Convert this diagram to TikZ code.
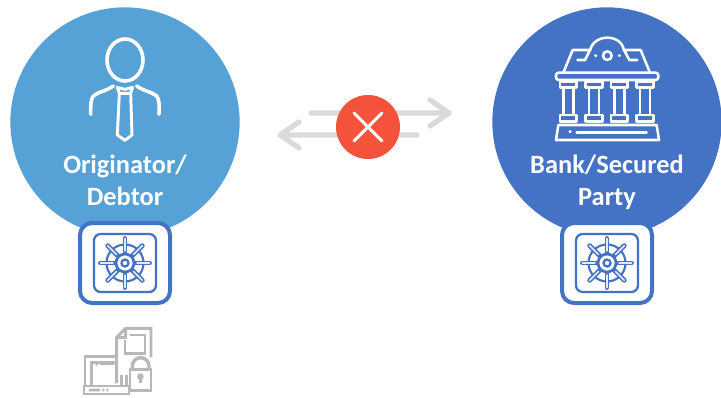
\documentclass[tikz,border=0pt]{standalone}
\usepackage{fontspec}
\setmainfont{Carlito}
\definecolor{lblue}{HTML}{56A2D6}
\definecolor{dblue}{HTML}{4472C4}
\definecolor{redx}{HTML}{F4523A}
\definecolor{arrowgray}{HTML}{DADADA}
\definecolor{icongray}{HTML}{B8B8B8}
\definecolor{spokein}{HTML}{E4EAF6}
\tikzset{
  party/.style={circle,minimum size=172pt,inner sep=0pt,fill=#1},
  partytext/.style={text=white,font=\bfseries\fontsize{19.8}{20}\selectfont,inner sep=0pt,anchor=base},
  iconline/.style={draw=white,line width=2.7pt,line cap=round,line join=round},
  bankline/.style={draw=white,line width=1.9pt,line cap=round,line join=round},
  arrowline/.style={draw=arrowgray,line width=4pt,line cap=round,line join=round},
  grayline/.style={draw=icongray,line width=2.2pt,line join=miter},
  vaultbox/.style={draw=dblue,fill=white,line width=3pt,rounded corners=9pt},
  vaultinner/.style={draw=dblue,line width=1.7pt,rounded corners=5pt},
  wheel/.style={draw=dblue,line width=2pt,line cap=round},
  zoomA/.style={x=.25pt,y=-.25pt},
  vault/.pic={
    \draw[vaultbox] (-45,-40) rectangle (45,40);
    \draw[vaultinner] (-31,-29) rectangle (31,29);
    \draw[wheel,line width=1.6pt] (0,0) circle (18.5);
    \foreach \a in {0,45,...,315}{\draw[wheel,line width=3.6pt] (\a:9) -- (\a:24.5);}
    \foreach \a in {0,45,...,315}{\draw[draw=spokein,line width=1.1pt,line cap=round] (\a:12) -- (\a:24.5);}
    \draw[wheel,fill=white] (0,0) circle (9);
    \draw[wheel,line width=1.7pt] (0,0) circle (3.5);
  }
}
\begin{document}
\begin{tikzpicture}[x=.75pt,y=-.75pt]
\useasboundingbox (0,0) rectangle (721,397);
% party circles
\node[party=lblue] (debtor) at (125,122) {};
\node[party=dblue] (bank) at (607,122) {};
\node[partytext] (t1) at (125,173) {Originator/};
\node[partytext] (t2) at (125,205) {Debtor};
\node[partytext] (t3) at (607,173) {Bank/Secured};
\node[partytext] (t4) at (607,205) {Party};
% person icon (coordinates of a 3x crop)
\begin{scope}[shift={(60,30)},zoomA]
\draw[iconline] (195,90) ellipse [x radius=54,y radius=63];
\draw[iconline] (160,168) .. controls (135,185) and (115,185) .. (100,198) .. controls (92,208) and (92,225) .. (92,253);
\draw[iconline] (230,168) .. controls (255,185) and (275,185) .. (290,198) .. controls (298,208) and (298,225) .. (297,253);
\draw[iconline,line width=2.2pt] (172,172) -- (195,178) -- (218,172) -- (212,190) -- (178,190) -- cycle;
\draw[iconline,line width=2.2pt] (178,190) -- (172,315) -- (195,331) -- (216,315) -- (212,190);
\end{scope}
% bank icon
\begin{scope}[shift={(540,30)},zoomA]
\draw[bankline,rounded corners=2pt] (48,128) rectangle (355,150);
\draw[bankline] (70,128) -- (98,60) -- (150,60) -- (135,90) -- (112,90);
\draw[bankline] (330,128) -- (302,60) -- (252,60) -- (268,90) -- (292,90);
\draw[bankline] (150,62) .. controls (160,10) and (245,10) .. (252,62);
\draw[bankline] (202,77) circle [radius=13];
\fill[white] (167,77) circle [radius=5] (238,77) circle [radius=5];
\foreach \c in {85,162,238,315}{
  \draw[bankline] (\c-25,155) rectangle (\c+25,172);
  \draw[bankline] (\c-15,172) -- (\c-15,255) (\c+15,172) -- (\c+15,255);
  \draw[bankline] (\c-25,255) rectangle (\c+25,275);
}
\draw[bankline] (55,285) -- (350,285) -- (357,330) -- (48,330) -- cycle;
\draw[bankline] (110,307) -- (320,307);
\fill[white] (90,305) circle [radius=5];
\end{scope}
% arrows
\coordinate (a1s) at (311,113);
\coordinate (a1e) at (449,113);
\coordinate (a1u) at (430,100);
\coordinate (a1d) at (430,126);
\coordinate (a2s) at (417,135);
\coordinate (a2e) at (280,135);
\coordinate (a2u) at (299,122);
\coordinate (a2d) at (299,148);
\draw[arrowline] (a1s) -- (a1e) (a1u) -- (a1e) -- (a1d);
\draw[arrowline] (a2s) -- (a2e) (a2u) -- (a2e) -- (a2d);
\node[circle,fill=redx,minimum size=48pt,inner sep=0pt] (stop) at (368,127) {};
\draw[white,line width=2.2pt,line cap=round] ([shift={(-14,-14)}]stop.center) -- ([shift={(14,14)}]stop.center);
\draw[white,line width=2.2pt,line cap=round] ([shift={(14,-14)}]stop.center) -- ([shift={(-14,14)}]stop.center);
% vaults
\pic at (125,263) {vault};
\pic at (607,263) {vault};
% gray icon
\begin{scope}[shift={(75,320)},zoomA]
\draw[grayline] (125,110) -- (30,110) -- (30,198);
\draw[grayline] (50,198) -- (50,128) -- (125,128);
\draw[grayline] (27,198) -- (162,198) -- (162,222) -- (27,222) -- cycle;
\draw[grayline] (140,198) -- (140,165) (155,198) -- (155,165);
\draw[grayline] (125,190) -- (125,52) -- (152,25) -- (228,25) -- (228,112);
\draw[grayline] (125,52) -- (152,52) -- (152,25);
\draw[grayline] (150,60) -- (150,100) -- (210,100) -- (210,45) -- (165,45);
\draw[grayline,fill=white] (165,148) rectangle (228,212);
\draw[grayline,line width=2.6pt] (172,148) -- (172,138) arc [start angle=180,end angle=360,radius=25] -- (222,148);
\fill[icongray] (196,170) circle [radius=10];
\draw[icongray,line width=2pt] (196,172) -- (196,190);
\fill[icongray] (65,133) circle [radius=4] (42,206) rectangle (75,214) (82,206) rectangle (88,214) (94,206) rectangle (100,214);
\draw[icongray,line width=1.4pt] (76,133) -- (118,133);
\end{scope}
\end{tikzpicture}
\end{document}
